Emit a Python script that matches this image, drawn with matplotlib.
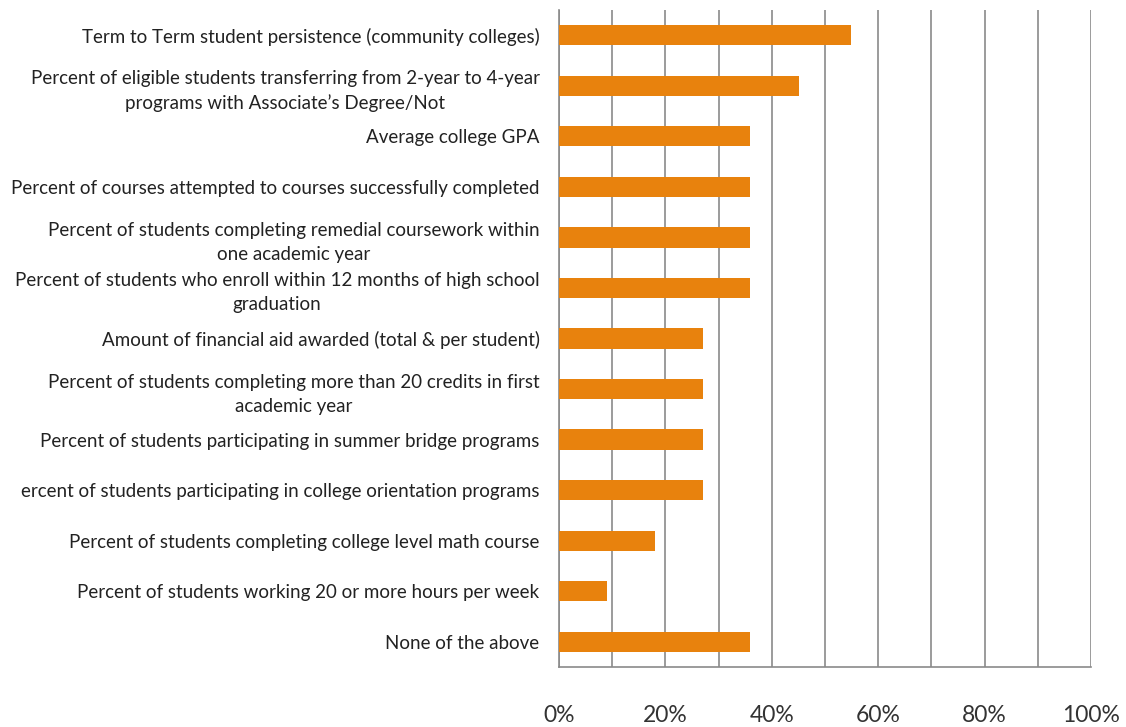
import matplotlib.pyplot as plt
from matplotlib.ticker import MultipleLocator, FixedLocator

# survey items, top to bottom
labels = [
    "Term to Term student persistence (community colleges)",
    "Percent of eligible students transferring from 2-year to 4-year\nprograms with Associate\u2019s Degree/Not",
    "Average college GPA",
    "Percent of courses attempted to courses successfully completed",
    "Percent of students completing remedial coursework within\none academic year",
    "Percent of students who enroll within 12 months of high school\ngraduation",
    "Amount of financial aid awarded (total & per student)",
    "Percent of students completing more than 20 credits in first\nacademic year",
    "Percent of students participating in summer bridge programs",
    "ercent of students participating in college orientation programs",
    "Percent of students completing college level math course",
    "Percent of students working 20 or more hours per week",
    "None of the above",
]
# share of respondents (fraction)
values = [0.549, 0.452, 0.36, 0.36, 0.36, 0.36, 0.27, 0.27, 0.27, 0.27, 0.18, 0.09, 0.36]
xticks = [0, 0.2, 0.4, 0.6, 0.8, 1.0]
xtick_labels = ["0%", "20%", "40%", "60%", "80%", "100%"]

plt.rcParams["font.family"] = ["Lato", "DejaVu Sans"]

fig = plt.figure(figsize=(11.26, 7.27), dpi=100)
ax = fig.add_axes([0.4964, 0.0825, 0.4725, 0.9037])

ypos = list(range(len(labels)))
ax.barh(ypos, values, height=0.4, color="#E8820D", zorder=3)

ax.set_xlim(0, 1)
ax.set_ylim(len(labels) - 0.5, -0.5)

ax.xaxis.set_major_locator(FixedLocator(xticks))
ax.set_xticklabels(xtick_labels, fontsize=16.5, color="#333333")
ax.xaxis.set_minor_locator(MultipleLocator(0.1))
ax.grid(True, axis="x", which="both", color="#8a8a8a", linewidth=1.2, zorder=0)
ax.tick_params(axis="x", which="both", length=0, pad=27)

ax.set_yticks(ypos)
ax.set_yticklabels(labels, fontsize=13.5, color="#222222", linespacing=1.5,
                   multialignment="center")
ax.tick_params(axis="y", length=0, pad=14)

for side in ["top", "right"]:
    ax.spines[side].set_visible(False)
ax.spines["left"].set_color("#8a8a8a")
ax.spines["left"].set_linewidth(1.2)
ax.spines["bottom"].set_color("#8a8a8a")
ax.spines["bottom"].set_linewidth(1.2)

fig.savefig("out.png", dpi=100)
